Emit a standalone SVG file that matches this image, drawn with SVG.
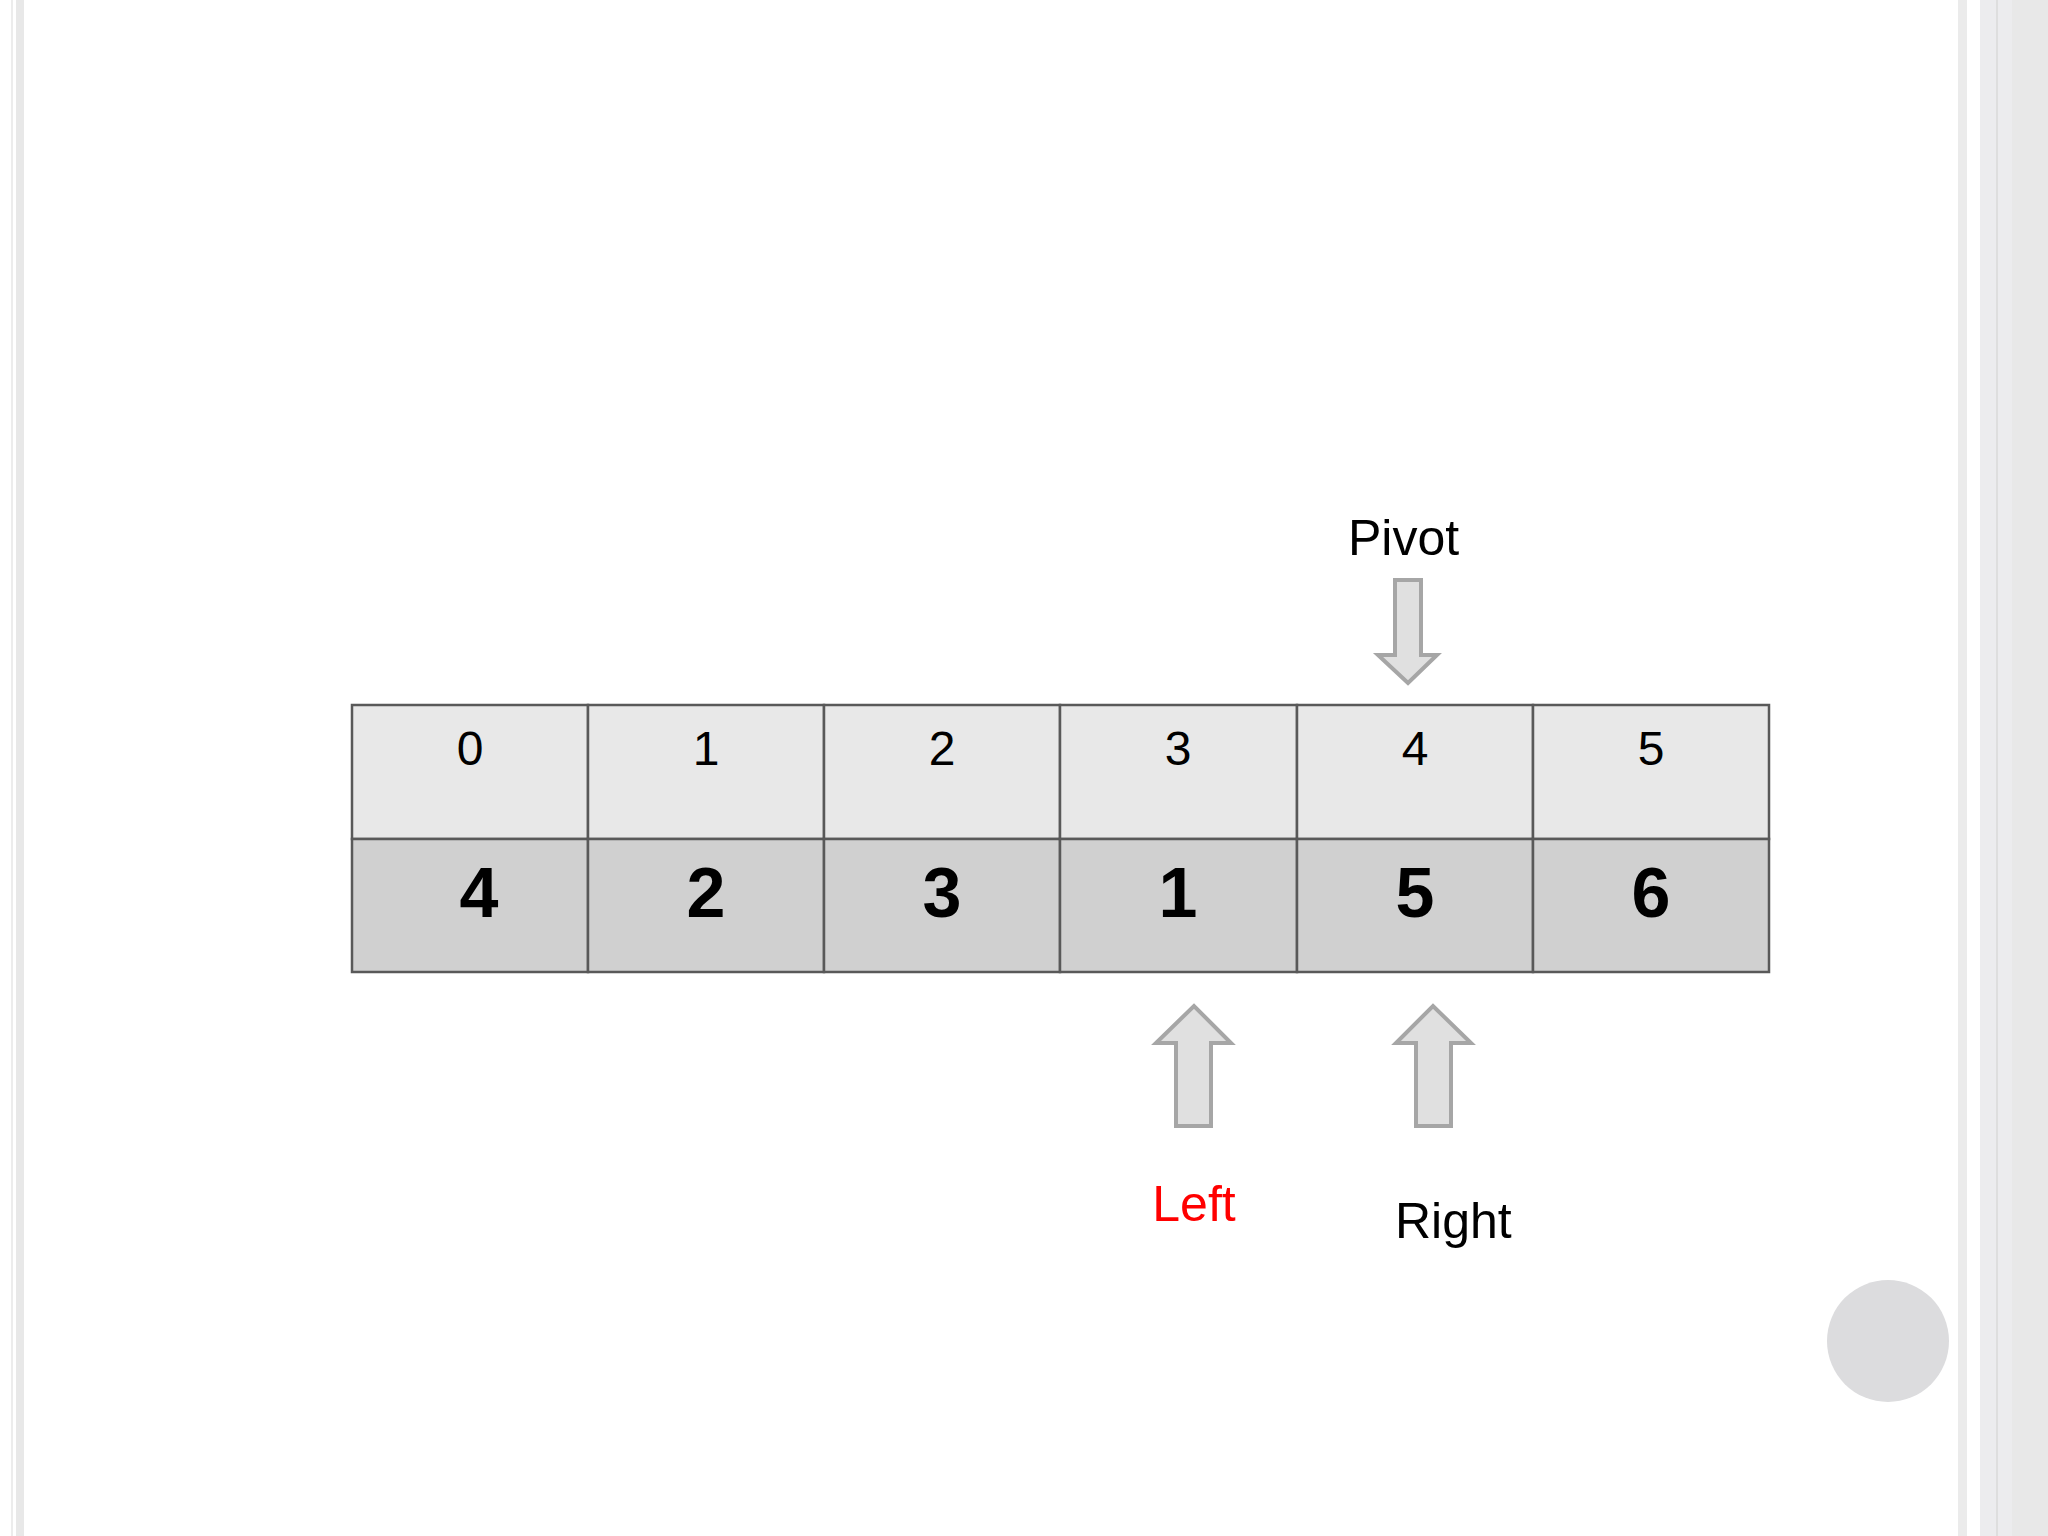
<svg xmlns="http://www.w3.org/2000/svg" width="2048" height="1536" viewBox="0 0 2048 1536">
<style>
.idx{fill:#e8e8e8;stroke:#595959;stroke-width:2.5}
.val{fill:#d0d0d0;stroke:#595959;stroke-width:2.5}
.it{font-family:"Liberation Sans",Arial,sans-serif;font-size:48px;fill:#000;text-anchor:middle}
.vt{font-family:"Liberation Sans",Arial,sans-serif;font-size:70px;font-weight:bold;fill:#000;text-anchor:middle}
.lbl{font-family:"Liberation Sans",Arial,sans-serif;font-size:50px;fill:#000}
.arr{fill:#e0e0e0;stroke:#a6a6a6;stroke-width:4}
</style>
<rect width="2048" height="1536" fill="#fff"/>
<g id="frame">
<rect x="11" y="0" width="2" height="1536" fill="#ececec"/>
<rect x="16" y="0" width="8" height="1536" fill="#e8e8e8"/>
<rect x="1958" y="0" width="9" height="1536" fill="#ebebeb"/>
<rect x="1980" y="0" width="68" height="1536" fill="#ececee"/>
<rect x="1996" y="0" width="2" height="1536" fill="#dedede"/>
<rect x="2012" y="0" width="36" height="1536" fill="#e8e8e8"/>
<circle cx="1888" cy="1341" r="61" fill="#dcdcde"/>
</g>
<g id="table">
<g id="cell0"><rect class="idx" x="352" y="705" width="236" height="134"/><rect class="val" x="352" y="839" width="236" height="133"/><text class="it" x="470" y="765">0</text><text class="vt" x="479" y="917">4</text></g>
<g id="cell1"><rect class="idx" x="588" y="705" width="236" height="134"/><rect class="val" x="588" y="839" width="236" height="133"/><text class="it" x="706" y="765">1</text><text class="vt" x="706" y="917">2</text></g>
<g id="cell2"><rect class="idx" x="824" y="705" width="236" height="134"/><rect class="val" x="824" y="839" width="236" height="133"/><text class="it" x="942" y="765">2</text><text class="vt" x="942" y="917">3</text></g>
<g id="cell3"><rect class="idx" x="1060" y="705" width="237" height="134"/><rect class="val" x="1060" y="839" width="237" height="133"/><text class="it" x="1178" y="765">3</text><text class="vt" x="1178" y="917">1</text></g>
<g id="cell4"><rect class="idx" x="1297" y="705" width="236" height="134"/><rect class="val" x="1297" y="839" width="236" height="133"/><text class="it" x="1415" y="765">4</text><text class="vt" x="1415" y="917">5</text></g>
<g id="cell5"><rect class="idx" x="1533" y="705" width="236" height="134"/><rect class="val" x="1533" y="839" width="236" height="133"/><text class="it" x="1651" y="765">5</text><text class="vt" x="1651" y="917">6</text></g>
</g>
<g id="pivot">
<text class="lbl" x="1348" y="555">Pivot</text>
<path class="arr" d="M1395,580 H1421 V655 H1437 L1408,683 L1378,655 H1395 Z"/>
</g>
<g id="left">
<path class="arr" d="M1176,1126 H1211 V1043 H1231 L1194,1006 L1156,1043 H1176 Z"/>
<text class="lbl" x="1194" y="1221" text-anchor="middle" fill="#ff0000" style="fill:#ff0000">Left</text>
</g>
<g id="right">
<path class="arr" d="M1416,1126 H1451 V1043 H1471 L1433,1006 L1396,1043 H1416 Z"/>
<text class="lbl" x="1395" y="1238">Right</text>
</g>
</svg>
